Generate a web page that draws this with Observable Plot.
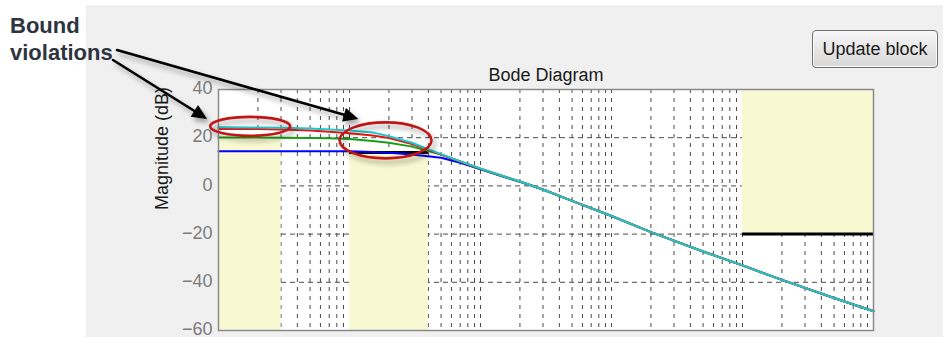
<!DOCTYPE html>
<html><head><meta charset="utf-8">
<script src="https://cdn.jsdelivr.net/npm/d3@7"></script>
<script src="https://cdn.jsdelivr.net/npm/@observablehq/plot@0.6"></script>
<style>
html,body{margin:0;padding:0;background:#fff;}
#wrap{position:relative;width:943px;height:337px;overflow:hidden;font-family:"Liberation Sans",Arial,sans-serif;}
#panel{position:absolute;left:86px;top:5px;right:0;bottom:0;background:#f0f0f0;}
#chart{position:absolute;left:0;top:0;}
#btn{position:absolute;left:812px;top:30px;width:126px;height:38px;box-sizing:border-box;border:1px solid #6f6f6f;border-radius:4px;background:linear-gradient(#f8f8f8,#e6e6e6 50%,#d8d8d8);font:18px "Liberation Sans",Arial,sans-serif;color:#1a1a1a;display:flex;align-items:center;justify-content:center;box-shadow:inset 0 0 0 1px #fafafa;}
#overlay{position:absolute;left:0;top:0;pointer-events:none;}
g[aria-label="y-axis tick label"] text{fill:#7c7c7c;}
</style></head>
<body><div id="wrap"><div id="panel"></div><div id="chart"></div><div id="btn">Update block</div><svg id="overlay" width="943" height="337"></svg></div>
<script>
// ---- data ----
const freq   = [0.01, 0.02, 0.03, 0.05, 0.07, 0.1, 0.15, 0.2, 0.3, 0.5, 0.7, 1, 1.5, 2, 3, 5, 10, 20, 50, 100, 200, 500, 1000];
const magCyan  = [24.3, 24.2, 24.1, 23.8, 23.4, 23.0, 22.2, 20.6, 17.9, 13.2, 10.2, 7.2, 4.0, 1.8, -1.5, -6.2, -12.5, -19.2, -27.2, -33.0, -39.0, -46.5, -52.0];
const magRed   = [23.6, 23.6, 23.4, 23.0, 22.5, 21.8, 20.9, 19.9, 17.4, 13.0, 10.1, 7.1, 4.0, 1.8, -1.5, -6.2, -12.5, -19.2, -27.2, -33.0, -39.0, -46.5, -52.0];
const magGreen = [20.1, 20.1, 20.0, 19.9, 19.8, 19.5, 18.6, 17.9, 16.3, 13.0, 10.1, 7.0, 3.9, 1.8, -1.5, -6.2, -12.5, -19.2, -27.2, -33.0, -39.0, -46.5, -52.0];
const magBlue  = [14.4, 14.4, 14.4, 14.4, 14.4, 14.4, 14.1, 13.8, 13.0, 11.7, 9.6, 6.9, 3.8, 1.7, -1.5, -6.2, -12.5, -19.2, -27.2, -33.0, -39.0, -46.5, -52.0];
const seriesNames  = ["blue", "green", "red", "cyan"];
const seriesColors = ["#0000ff", "#13a013", "#e81414", "#1ec8c8"];
const seriesValues = [magBlue, magGreen, magRed, magCyan];

// bound regions (yellow = forbidden)
const boundFreqStart = [0.01, 0.1, 100];
const boundFreqEnd   = [0.03, 0.4, 1000];
const boundEdgeDb    = [20, 13.9, -20];
const boundSide      = ["below", "below", "above"];
const boundEdgeDrawn = [false, true, true];

const xDomain = [0.01, 1000];
const yDomain = [-60, 40];
const yTicks  = [-60, -40, -20, 0, 20, 40];
const yGrid   = [-40, -20, 0, 20];
const decades = [0.01, 0.1, 1, 10, 100];
const multipliers = [1, 2, 3, 4, 5, 6, 7, 8, 9];

// annotation anchors (data space)
const ellipseFreq = [0.0176, 0.19];
const ellipseDb   = [24.5, 18.7];
const ellipseRx   = [40, 46];
const ellipseRy   = [9.5, 18];
const arrowTipFreq = [0.00825, 0.118];
const arrowTipDb   = [27.6, 27.6];

// ---- build tables ----
const gridFreqs = decades.flatMap(d => multipliers.map(m => d * m)).concat([1000]);
const bounds = boundFreqStart.map((f, i) => ({
  f1: f, f2: boundFreqEnd[i],
  lo: boundSide[i] === "below" ? yDomain[0] : boundEdgeDb[i],
  hi: boundSide[i] === "below" ? boundEdgeDb[i] : yDomain[1],
  edge: boundEdgeDb[i], drawn: boundEdgeDrawn[i]
}));
const lineMarks = seriesNames.map((name, s) =>
  Plot.line(freq.map((f, i) => ({f, db: seriesValues[s][i]})),
    {x: "f", y: "db", stroke: seriesColors[s], strokeWidth: 2}));

const plot = Plot.plot({
  width: 943, height: 337,
  marginLeft: 218, marginRight: 70, marginTop: 89, marginBottom: 7,
  style: {background: "transparent", fontFamily: "'Liberation Sans', Arial, sans-serif", fontSize: "18px", color: "#1a1a1a", overflow: "visible"},
  x: {type: "log", domain: xDomain, axis: null},
  y: {domain: yDomain},
  marks: [
    Plot.frame({fill: "white", stroke: null}),
    Plot.ruleX(gridFreqs, {stroke: "#4a4a4a", strokeWidth: 1, strokeDasharray: "4,5"}),
    Plot.ruleY(yGrid, {stroke: "#4a4a4a", strokeWidth: 1, strokeDasharray: "5,4"}),
    Plot.rect(bounds, {x1: "f1", x2: "f2", y1: "lo", y2: "hi", fill: "#f8f8d2"}),
    Plot.ruleY(bounds.filter(d => d.drawn), {x1: "f1", x2: "f2", y: "edge", stroke: "black", strokeWidth: 3}),
    ...lineMarks,
    Plot.frame({stroke: "#8a8a8a", strokeWidth: 1.5}),
    Plot.axisY(yTicks, {tickSize: 0, tickPadding: 6, label: null, fontSize: 18, dy: -1}),
    Plot.text(["Magnitude (dB)"], {frameAnchor: "left", dx: -56, rotate: -90, fontSize: 18, fill: "#1a1a1a"}),
    Plot.text(["Bode Diagram"], {frameAnchor: "top", dy: -9, lineAnchor: "bottom", fontSize: 18, fill: "#1a1a1a"})
  ]
});
document.getElementById("chart").appendChild(plot);

// ---- annotations ----
const sx = plot.scale("x"), sy = plot.scale("y");
const X = v => sx.apply(v), Y = v => sy.apply(v);
const ov = d3.select("#overlay");
const defs = ov.append("defs");
const filt = defs.append("filter").attr("id", "sh").attr("x", "-20%").attr("y", "-50%").attr("width", "150%").attr("height", "250%");
filt.append("feDropShadow").attr("dx", 3).attr("dy", 4).attr("stdDeviation", 2.5).attr("flood-color", "#000").attr("flood-opacity", 0.35);

ellipseFreq.forEach((f, i) => {
  ov.append("ellipse").attr("cx", X(f)).attr("cy", Y(ellipseDb[i]))
    .attr("rx", ellipseRx[i]).attr("ry", ellipseRy[i])
    .attr("fill", "none").attr("stroke", "#c01818").attr("stroke-width", 2.6).attr("filter", "url(#sh)");
});

const arrowStarts = [[113, 60], [117, 50]];
arrowTipFreq.forEach((f, i) => {
  const [x0, y0] = arrowStarts[i];
  const x1 = X(f), y1 = Y(arrowTipDb[i]);
  const dx = x1 - x0, dy = y1 - y0, L = Math.hypot(dx, dy);
  const ux = dx / L, uy = dy / L, px = -uy, py = ux;
  const hl = 15, hw = 7;
  const bx = x1 - ux * hl, by = y1 - uy * hl;
  const g = ov.append("g").attr("filter", "url(#sh)");
  g.append("line").attr("x1", x0).attr("y1", y0).attr("x2", bx + ux * 2).attr("y2", by + uy * 2)
    .attr("stroke", "#000").attr("stroke-width", 2.6).attr("stroke-linecap", "round");
  g.append("path").attr("d", `M${x1},${y1}L${bx + px * hw},${by + py * hw}L${bx - px * hw},${by - py * hw}Z`).attr("fill", "#000");
});

const txt = ov.append("text").attr("font-family", "'Liberation Sans', Arial, sans-serif")
  .attr("font-size", 22).attr("font-weight", "bold").attr("fill", "#2e3340");
txt.append("tspan").attr("x", 10).attr("y", 32.5).text("Bound");
txt.append("tspan").attr("x", 10).attr("y", 59.5).text("violations");
</script>
</body></html>
